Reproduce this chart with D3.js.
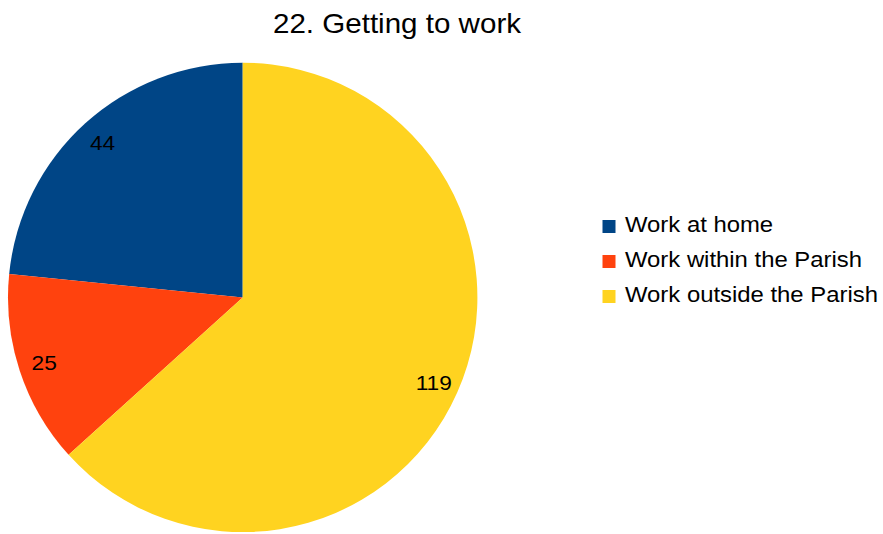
<!DOCTYPE html>
<html><head><meta charset="utf-8">
<script src="https://cdn.jsdelivr.net/npm/d3@7"></script>
<style>body{margin:0;background:#fff}svg{display:block}text{font-family:"Liberation Sans",Arial,sans-serif;fill:#000}</style>
</head><body>
<script>
const categories = ["Work at home", "Work within the Parish", "Work outside the Parish"];
const values = [44, 25, 119];
const colors = ["#004586", "#ff420e", "#ffd320"];
const title = "22. Getting to work";

const W = 883, H = 534;
const svg = d3.select("body").append("svg").attr("width", W).attr("height", H);

const cx = 242.7, cy = 297.4, R = 234.7;
const pie = d3.pie().sort(null).startAngle(0).endAngle(-2 * Math.PI);
const arcs = pie(values);
const arc = d3.arc().innerRadius(0).outerRadius(R);
const labelArc = d3.arc().innerRadius(209).outerRadius(209);

const g = svg.append("g").attr("transform", `translate(${cx},${cy})`);
g.selectAll("path").data(arcs).join("path")
  .attr("d", arc).attr("fill", (d, i) => colors[i]);
g.selectAll("text").data(arcs).join("text")
  .attr("transform", d => `translate(${labelArc.centroid(d)})`)
  .attr("text-anchor", "middle").attr("dominant-baseline", "central")
  .attr("font-size", 21)
  .text(d => d.data)
  .each(function () {
    const len = this.getComputedTextLength();
    d3.select(this).attr("textLength", len * 1.08).attr("lengthAdjust", "spacingAndGlyphs");
  });

const t = svg.append("text").attr("x", 397).attr("y", 33.3)
  .attr("text-anchor", "middle").attr("font-size", 28).text(title);
t.attr("textLength", 248).attr("lengthAdjust", "spacingAndGlyphs");

const leg = svg.append("g");
categories.forEach((c, i) => {
  const by = 231.7 + i * 35;
  leg.append("rect").attr("x", 602.5).attr("y", by - 11.7).attr("width", 13).attr("height", 13)
    .attr("fill", colors[i]);
  const tx = leg.append("text").attr("x", 625).attr("y", by).attr("font-size", 21.5).text(c);
  const len = tx.node().getComputedTextLength();
  tx.attr("textLength", len * 1.11).attr("lengthAdjust", "spacingAndGlyphs");
});
</script>
</body></html>
